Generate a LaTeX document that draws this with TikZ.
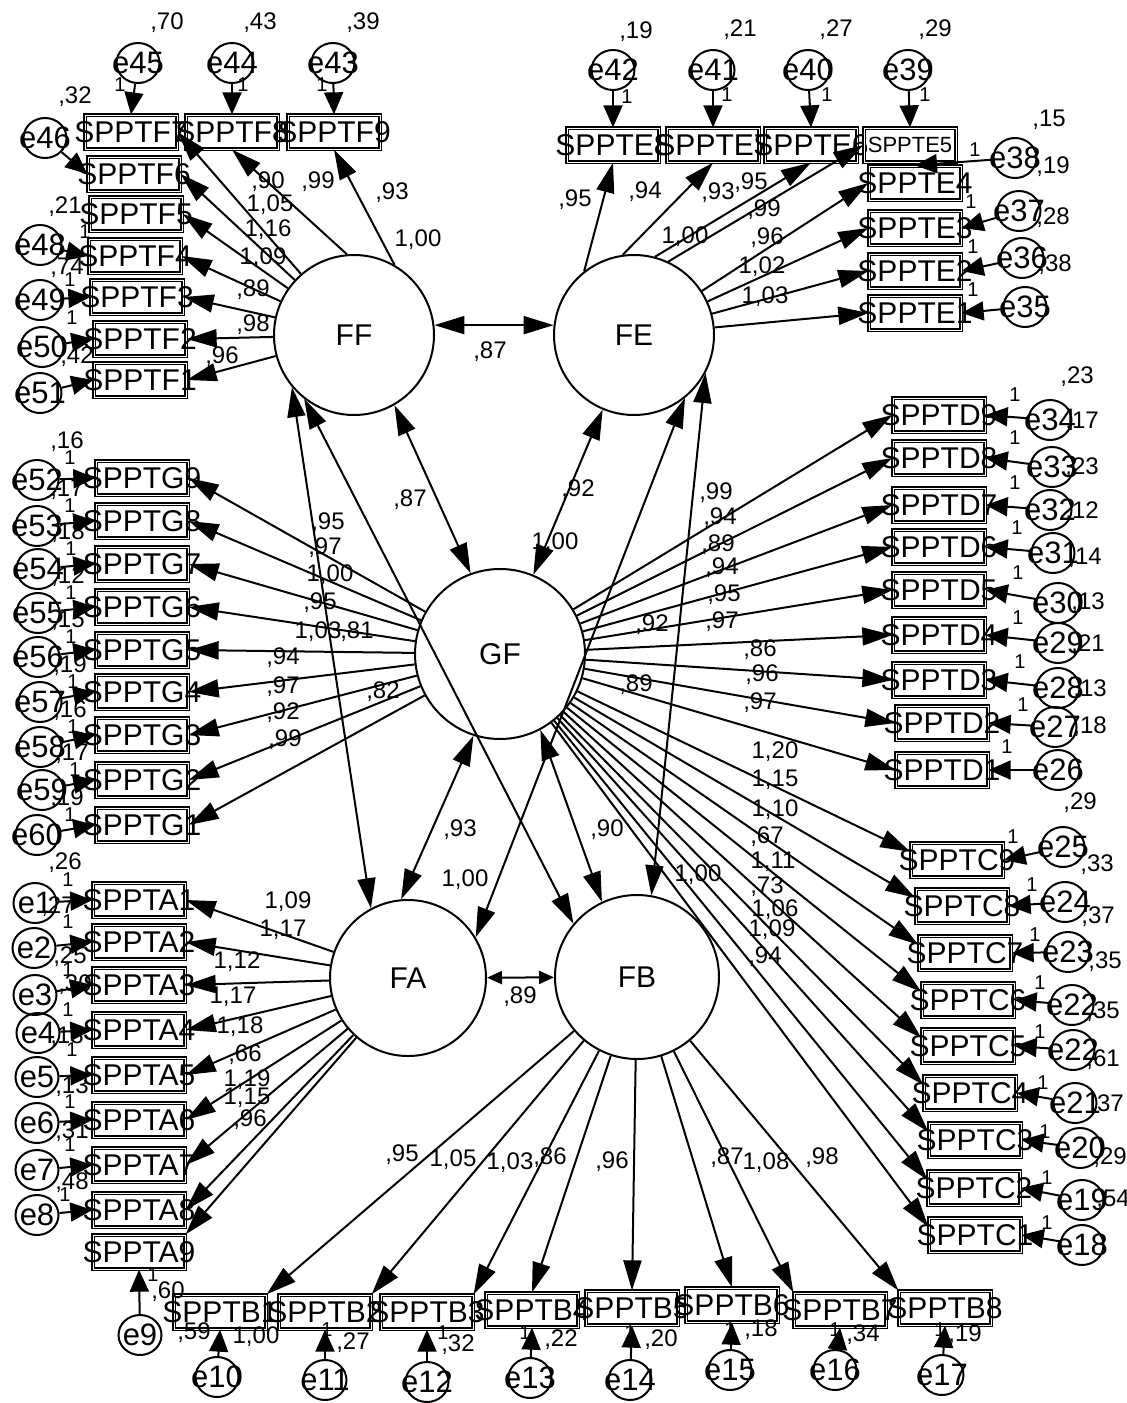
\documentclass[tikz,border=0pt]{standalone}
\usepackage{fontspec}
\setmainfont{Liberation Sans}
\usetikzlibrary{shapes.geometric,arrows.meta}
\newcounter{labc}
\newcommand\mylab[3]{\stepcounter{labc}\node[num] (lab\arabic{labc}) at (#1,#2) {#3};}
\newcommand\myone[2]{\stepcounter{labc}\node[onest] (lab\arabic{labc}) at (#1,#2) {1};}
\newcommand\obsnode[4]{\node[obs] (#1) at (#2,#3) {\makebox[0pt]{#4}};}
\newcommand\errnode[4]{\node[err] (#1) at (#2,#3) {\makebox[0pt]{#4}};}
\tikzset{
  obs/.style={draw, double, line width=1.3pt, double distance=1pt, rectangle, minimum width=92pt, minimum height=34pt, inner sep=0pt, font=\fontsize{30}{30}\selectfont},
  lat/.style={draw, circle, line width=2pt, inner sep=0pt, font=\fontsize{30}{30}\selectfont},
  err/.style={draw, ellipse, line width=2pt, minimum width=43pt, minimum height=40pt, inner sep=0pt, font=\fontsize{31}{31}\selectfont},
  num/.style={inner sep=0pt, font=\fontsize{24}{24}\selectfont},
  onest/.style={inner sep=0pt, font=\fontsize{20}{20}\selectfont},
  pth/.style={line width=2pt, -{Triangle[length=30pt,width=18pt]}},
  epth/.style={line width=2pt, -{Triangle[length=22pt,width=19pt]}},
  cov/.style={line width=2pt, {Triangle[length=30pt,width=18pt]}-{Triangle[length=30pt,width=18pt]}},
  covs/.style={line width=2pt, {Triangle[length=15pt,width=13pt]}-{Triangle[length=15pt,width=13pt]}},
}
\begin{document}
\begin{tikzpicture}[x=1pt,y=-1pt]
\fill[white] (0,0) rectangle (1127,1403);
\useasboundingbox (0,0) rectangle (1127,1403);

% ---------- latent variables
\node[lat,minimum size=160pt] (FF) at (354,335) {FF};
\node[lat,minimum size=160pt] (FE) at (634,335) {FE};
\node[lat,minimum size=170pt] (GF) at (500,654) {GF};
\node[lat,minimum size=156pt] (FA) at (408,978) {FA};
\node[lat,minimum size=164pt] (FB) at (637,977) {FB};

% ---------- F indicators
\obsnode{F7}{131}{132}{SPPTF7}
\obsnode{F8}{232}{132}{SPPTF8}
\obsnode{F9}{334}{132}{SPPTF9}
\obsnode{F6}{134}{174}{SPPTF6}
\obsnode{F5}{136}{214}{SPPTF5}
\obsnode{F4}{135}{256}{SPPTF4}
\obsnode{F3}{137}{297}{SPPTF3}
\obsnode{F2}{140}{339}{SPPTF2}
\obsnode{F1}{140}{380}{SPPTF1}
\errnode{e45}{138}{63}{e45}
\errnode{e44}{232}{63}{e44}
\errnode{e43}{333}{63}{e43}
\errnode{e46}{45}{138}{e46}
\errnode{e48}{40}{245}{e48}
\errnode{e49}{40}{300}{e49}
\errnode{e50}{42}{347}{e50}
\errnode{e51}{40}{393}{e51}

% ---------- E indicators
\obsnode{E8}{613}{145}{SPPTE8}
\obsnode{E7}{713}{145}{SPPTE7}
\obsnode{E6}{811}{145}{SPPTE6}
\obsnode{E5}{910}{145}{\fontsize{22}{22}\selectfont SPPTE5}
\obsnode{E4}{915}{183}{SPPTE4}
\obsnode{E3}{915}{228}{SPPTE3}
\obsnode{E2}{915}{271}{SPPTE2}
\obsnode{E1}{915}{313}{SPPTE1}
\errnode{e42}{613}{70}{e42}
\errnode{e41}{713}{70}{e41}
\errnode{e40}{808}{70}{e40}
\errnode{e39}{908}{70}{e39}
\errnode{e38}{1015}{158}{e38}
\errnode{e37}{1019}{211}{e37}
\errnode{e36}{1022}{258}{e36}
\errnode{e35}{1025}{307}{e35}

% ---------- G indicators
\obsnode{G9}{142}{478}{SPPTG9}
\obsnode{G8}{142}{521}{SPPTG8}
\obsnode{G7}{142}{564}{SPPTG7}
\obsnode{G6}{142}{607}{SPPTG6}
\obsnode{G5}{142}{650}{SPPTG5}
\obsnode{G4}{142}{692}{SPPTG4}
\obsnode{G3}{142}{735}{SPPTG3}
\obsnode{G2}{142}{780}{SPPTG2}
\obsnode{G1}{142}{825}{SPPTG1}
\errnode{e52}{37}{480}{e52}
\errnode{e53}{37}{526}{e53}
\errnode{e54}{38}{569}{e54}
\errnode{e55}{38}{613}{e55}
\errnode{e56}{38}{657}{e56}
\errnode{e57}{40}{702}{e57}
\errnode{e58}{40}{747}{e58}
\errnode{e59}{42}{790}{e59}
\errnode{e60}{37}{835}{e60}

% ---------- D indicators
\obsnode{D9}{939}{415}{SPPTD9}
\obsnode{D8}{939}{458}{SPPTD8}
\obsnode{D7}{939}{505}{SPPTD7}
\obsnode{D6}{939}{547}{SPPTD6}
\obsnode{D5}{939}{590}{SPPTD5}
\obsnode{D4}{939}{635}{SPPTD4}
\obsnode{D3}{939}{680}{SPPTD3}
\obsnode{D2}{942}{723}{SPPTD2}
\obsnode{D1}{942}{770}{SPPTD1}
\errnode{e34}{1050}{420}{e34}
\errnode{e33}{1052}{467}{e33}
\errnode{e32}{1050}{510}{e32}
\errnode{e31}{1053}{553}{e31}
\errnode{e30}{1058}{603}{e30}
\errnode{e29}{1058}{643}{e29}
\errnode{e28}{1058}{688}{e28}
\errnode{e27}{1055}{727}{e27}
\errnode{e26}{1058}{770}{e26}

% ---------- C indicators
\obsnode{C9}{957}{860}{SPPTC9}
\obsnode{C8}{962}{906}{SPPTC8}
\obsnode{C7}{965}{953}{SPPTC7}
\obsnode{C6}{968}{1000}{SPPTC6}
\obsnode{C5}{968}{1046}{SPPTC5}
\obsnode{C4}{970}{1093}{SPPTC4}
\obsnode{C3}{975}{1140}{SPPTC3}
\obsnode{C2}{974}{1188}{SPPTC2}
\obsnode{C1}{975}{1235}{SPPTC1}
\errnode{e25}{1063}{847}{e25}
\errnode{e24}{1065}{902}{e24}
\errnode{e23}{1068}{952}{e23}
\errnode{e22a}{1072}{1005}{e22}
\errnode{e22b}{1073}{1050}{e22}
\errnode{e21}{1075}{1103}{e21}
\errnode{e20}{1080}{1148}{e20}
\errnode{e19}{1082}{1200}{e19}
\errnode{e18}{1082}{1245}{e18}

% ---------- A indicators
\obsnode{A1}{139}{900}{SPPTA1}
\obsnode{A2}{139}{942}{SPPTA2}
\obsnode{A3}{139}{985}{SPPTA3}
\obsnode{A4}{139}{1030}{SPPTA4}
\obsnode{A5}{139}{1075}{SPPTA5}
\obsnode{A6}{139}{1120}{SPPTA6}
\obsnode{A7}{139}{1165}{SPPTA7}
\obsnode{A8}{139}{1210}{SPPTA8}
\obsnode{A9}{139}{1252}{SPPTA9}
\errnode{e1}{35}{903}{e1}
\errnode{e2}{34}{948}{e2}
\errnode{e3}{35}{995}{e3}
\errnode{e4}{38}{1033}{e4}
\errnode{e5}{37}{1077}{e5}
\errnode{e6}{37}{1123}{e6}
\errnode{e7}{37}{1170}{e7}
\errnode{e8}{37}{1215}{e8}
\errnode{e9}{140}{1335}{e9}

% ---------- B indicators
\obsnode{B1}{220}{1312}{SPPTB1}
\obsnode{B2}{325}{1312}{SPPTB2}
\obsnode{B3}{427}{1312}{SPPTB3}
\obsnode{B4}{532}{1310}{SPPTB4}
\obsnode{B5}{632}{1308}{SPPTB5}
\obsnode{B6}{732}{1305}{SPPTB6}
\obsnode{B7}{840}{1310}{SPPTB7}
\obsnode{B8}{945}{1308}{SPPTB8}
\errnode{e10}{217}{1377}{e10}
\errnode{e11}{325}{1380}{e11}
\errnode{e12}{427}{1382}{e12}
\errnode{e13}{530}{1378}{e13}
\errnode{e14}{630}{1380}{e14}
\errnode{e15}{730}{1370}{e15}
\errnode{e16}{835}{1370}{e16}
\errnode{e17}{942}{1375}{e17}

% ---------- loadings
\draw[pth] (FF.60) -- (F9.south);
\draw[pth] (FF.95) -- (F8.south);
\draw[pth] (FF) -- (F7.east);
\foreach \b in {F6,F5,F4,F3,F2,F1} \draw[pth] (FF) -- (\b.east);
\draw[pth] (FE.128) -- (E8.south);
\draw[pth] (FE.98) -- (E7.south);
\draw[pth] (FE.75) -- (E6.south);
\draw[pth] (FE.65) -- (E5.west);
\foreach \b in {E4,E3,E2,E1} \draw[pth] (FE) -- (\b.west);
\foreach \b in {G9,G8,G7,G6,G5,G4,G3,G2,G1} \draw[pth] (GF) -- (\b.east);
\foreach \b in {D9,D8,D7,D6,D5,D4,D3,D2,D1} \draw[pth] (GF) -- (\b.west);
\foreach \b in {C9,C8,C7,C6,C5,C4,C3,C2,C1} \draw[pth] (GF) -- (\b.170);
\foreach \b in {A1,A2,A3,A4,A5,A6,A7,A8} \draw[pth] (FA) -- (\b.east);
\draw[pth] (FA) -- (A9.north east);
\foreach \b in {B1,B2,B3} \draw[pth] (FB) -- (\b.north east);
\foreach \b in {B4,B5,B6} \draw[pth] (FB) -- (\b.north);
\foreach \b in {B7,B8} \draw[pth] (FB) -- (\b.north west);

% ---------- error paths
\draw[epth] (e45) -- (F7.north);
\draw[epth] (e44) -- (F8.north);
\draw[epth] (e43) -- (F9.north);
\draw[epth] (e46) -- (F6.west);
\draw[epth] (e48) -- (F4.west);
\draw[epth] (e49) -- (F3.west);
\draw[epth] (e50) -- (F2.west);
\draw[epth] (e51) -- (F1.west);
\draw[epth] (e42) -- (E8.north);
\draw[epth] (e41) -- (E7.north);
\draw[epth] (e40) -- (E6.north);
\draw[epth] (e39) -- (E5.north);
\draw[epth] (e38) -- (E4.north);
\draw[epth] (e37) -- (E3.east);
\draw[epth] (e36) -- (E2.east);
\draw[epth] (e35) -- (E1.east);
\foreach \e/\b in {e52/G9,e53/G8,e54/G7,e55/G6,e56/G5,e57/G4,e58/G3,e59/G2,e60/G1} \draw[epth] (\e) -- (\b.west);
\foreach \e/\b in {e34/D9,e33/D8,e32/D7,e31/D6,e30/D5,e29/D4,e28/D3,e27/D2,e26/D1} \draw[epth] (\e) -- (\b.east);
\foreach \e/\b in {e25/C9,e24/C8,e23/C7,e22a/C6,e22b/C5,e21/C4,e20/C3,e19/C2,e18/C1} \draw[epth] (\e) -- (\b.east);
\foreach \e/\b in {e1/A1,e2/A2,e3/A3,e4/A4,e5/A5,e6/A6,e7/A7,e8/A8} \draw[epth] (\e) -- (\b.west);
\draw[epth] (e9) -- (A9.south);
\foreach \e/\b in {e10/B1,e11/B2,e12/B3,e13/B4,e14/B5,e15/B6,e16/B7,e17/B8} \draw[epth] (\e) -- (\b.south);

% ---------- covariances
\draw[cov] (FF.7) -- (FE.173);
\draw[cov] (FF.-60) -- (GF.110);
\draw[cov] (FE) -- (GF);
\draw[cov] (GF.-108) -- (FA.95);
\draw[cov] (GF.-62) -- (FB.115);
\draw[covs] (FA) -- (FB);
\draw[cov] (FF.-140) -- (FA.118);
\draw[cov] (FF.-128) -- (FB.140);
\draw[cov] (FE.-51) -- (FA.31);
\draw[cov] (FE.-28) -- (FB.80);

% ---------- labels: F
\mylab{167}{23}{,70} \mylab{260}{23}{,43} \mylab{363}{23}{,39}
\myone{120}{85} \myone{243}{85} \myone{322}{85}
\mylab{75}{97}{,32} \mylab{65}{207}{,21} \mylab{67}{268}{,74} \mylab{77}{357}{,42}
\myone{85}{232} \myone{70}{280} \myone{72}{318}
\mylab{268}{182}{,90} \mylab{318}{182}{,99} \mylab{392}{193}{,93} \mylab{418}{240}{1,00}
\mylab{270}{205}{1,05} \mylab{268}{230}{1,16} \mylab{263}{258}{1,09} \mylab{253}{290}{,89}
\mylab{253}{325}{,98} \mylab{222}{357}{,96}
% E
\mylab{636}{32}{,19} \mylab{740}{30}{,21} \mylab{836}{30}{,27} \mylab{935}{30}{,29}
\myone{627}{97} \myone{727}{95} \myone{827}{95} \myone{925}{95}
\mylab{1049}{120}{,15} \mylab{1053}{167}{,19} \mylab{1053}{218}{,28} \mylab{1055}{265}{,38}
\myone{975}{150} \myone{971}{202} \myone{973}{247} \myone{973}{290}
\mylab{575}{200}{,95} \mylab{645}{192}{,94} \mylab{718}{193}{,93} \mylab{751}{183}{,95}
\mylab{764}{210}{,99} \mylab{685}{237}{1,00} \mylab{767}{238}{,96} \mylab{762}{267}{1,02}
\mylab{765}{297}{1,03}
\mylab{490}{352}{,87}
% G
\mylab{67}{442}{,16} \myone{70}{458}
\mylab{67}{490}{,17} \myone{70}{506}
\mylab{68}{533}{,18} \myone{71}{549}
\mylab{68}{577}{,12} \myone{71}{593}
\mylab{68}{621}{,15} \myone{71}{637}
\mylab{70}{666}{,19} \myone{73}{682}
\mylab{70}{711}{,16} \myone{73}{727}
\mylab{72}{754}{,17} \myone{75}{770}
\mylab{67}{799}{,19} \myone{70}{815}
\mylab{328}{523}{,95} \mylab{325}{548}{,97} \mylab{330}{575}{1,00} \mylab{320}{603}{,95}
\mylab{318}{632}{1,03} \mylab{357}{632}{,81} \mylab{283}{658}{,94} \mylab{283}{687}{,97}
\mylab{283}{713}{,92} \mylab{285}{740}{,99} \mylab{383}{692}{,82}
\mylab{410}{500}{,87} \mylab{578}{490}{,92} \mylab{555}{543}{1,00}
% D
\mylab{1077}{377}{,23} \mylab{1082}{422}{,17} \mylab{1082}{468}{,23} \mylab{1082}{512}{,12}
\mylab{1085}{558}{,14} \mylab{1088}{603}{,13} \mylab{1088}{645}{,21} \mylab{1090}{690}{,13}
\mylab{1090}{727}{,18}
\myone{1015}{395} \myone{1015}{438} \myone{1015}{483} \myone{1017}{528} \myone{1018}{573}
\myone{1018}{618} \myone{1020}{662} \myone{1023}{705} \myone{1007}{747}
\mylab{716}{493}{,99} \mylab{720}{518}{,94} \mylab{718}{545}{,89} \mylab{722}{568}{,94}
\mylab{724}{595}{,95} \mylab{722}{622}{,97} \mylab{652}{625}{,92} \mylab{760}{650}{,86}
\mylab{762}{675}{,96} \mylab{760}{703}{,97} \mylab{636}{685}{,89}
% C
\mylab{1080}{803}{,29} \mylab{1097}{865}{,33} \mylab{1098}{917}{,37} \mylab{1105}{962}{,35}
\mylab{1103}{1012}{,35} \mylab{1103}{1060}{,61} \mylab{1107}{1105}{,37} \mylab{1110}{1158}{,29}
\mylab{1113}{1200}{,54}
\myone{1013}{837} \myone{1032}{885} \myone{1035}{935} \myone{1040}{983} \myone{1040}{1032}
\myone{1043}{1083} \myone{1045}{1132} \myone{1047}{1178} \myone{1047}{1223}
\mylab{775}{752}{1,20} \mylab{775}{780}{1,15} \mylab{775}{810}{1,10} \mylab{767}{837}{,67}
\mylab{773}{862}{1,11} \mylab{767}{887}{,73} \mylab{775}{910}{1,06} \mylab{772}{930}{1,09}
\mylab{765}{957}{,94}
% A
\mylab{65}{863}{,26} \myone{68}{880} \mylab{58}{907}{,27} \myone{68}{922}
\mylab{70}{957}{,25} \myone{68}{970} \mylab{75}{985}{,30} \myone{68}{1010}
\mylab{67}{1037}{,18} \myone{72}{1050} \mylab{72}{1087}{,13} \myone{70}{1102}
\mylab{72}{1132}{,31} \myone{70}{1145} \mylab{72}{1183}{,48} \myone{65}{1195}
\mylab{168}{1292}{,60} \myone{153}{1275}
\mylab{288}{902}{1,09} \mylab{283}{930}{1,17} \mylab{237}{962}{1,12} \mylab{233}{997}{1,17}
\mylab{240}{1027}{1,18} \mylab{245}{1055}{,66} \mylab{247}{1080}{1,19} \mylab{247}{1098}{1,15}
\mylab{250}{1120}{,96}
\mylab{460}{830}{,93} \mylab{465}{880}{1,00} \mylab{607}{830}{,90} \mylab{520}{997}{,89}
\mylab{698}{875}{1,00}
% B
\mylab{194}{1333}{,59} \mylab{256}{1337}{1,00}
\myone{327}{1330} \mylab{353}{1343}{,27}
\myone{443}{1333} \mylab{458}{1345}{,32}
\myone{525}{1333} \mylab{561}{1340}{,22}
\myone{630}{1333} \mylab{661}{1340}{,20}
\myone{730}{1330} \mylab{761}{1330}{,18}
\myone{835}{1330} \mylab{863}{1335}{,34}
\myone{940}{1330} \mylab{965}{1335}{,19}
\mylab{402}{1155}{,95} \mylab{453}{1160}{1,05} \mylab{510}{1163}{1,03} \mylab{550}{1158}{,86}
\mylab{612}{1162}{,96} \mylab{727}{1158}{,87} \mylab{766}{1163}{1,08} \mylab{822}{1158}{,98}
\end{tikzpicture}
\end{document}
